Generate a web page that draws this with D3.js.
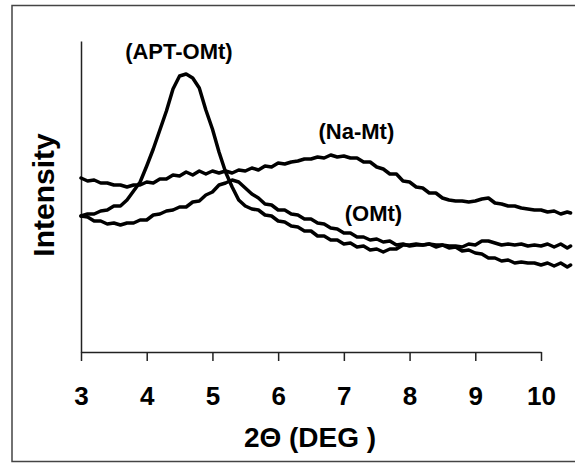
<!DOCTYPE html>
<html>
<head>
<meta charset="utf-8">
<script src="https://cdn.jsdelivr.net/npm/d3@7/dist/d3.min.js"></script>
<style>
  html, body { margin: 0; padding: 0; background: #fff; }
  svg { display: block; }
  text { font-family: "Liberation Sans", Arial, sans-serif; font-weight: bold; fill: #000; }
</style>
</head>
<body>
<svg id="chart" width="575" height="463"></svg>
<script>
// 2θ sample positions (degrees)
const twoTheta = [3.0,3.1,3.2,3.3,3.4,3.5,3.6,3.7,3.8,3.9,4.0,4.1,4.2,4.3,4.4,4.5,4.6,4.7,4.8,4.9,
  5.0,5.1,5.2,5.3,5.4,5.5,5.6,5.7,5.8,5.9,6.0,6.1,6.2,6.3,6.4,6.5,6.6,6.7,6.8,6.9,
  7.0,7.1,7.2,7.3,7.4,7.5,7.6,7.7,7.8,7.9,8.0,8.1,8.2,8.3,8.4,8.5,8.6,8.7,8.8,8.9,
  9.0,9.1,9.2,9.3,9.4,9.5,9.6,9.7,9.8,9.9,10.0,10.1,10.2,10.3,10.4,10.45];

// Intensity (arbitrary units)
const naMt = [1740,1710,1720,1690,1690,1670,1670,1650,1670,1670,1700,1690,1730,1730,1770,1760,1800,1770,1810,1780,
  1810,1790,1810,1790,1820,1810,1840,1820,1860,1850,1890,1880,1900,1910,1930,1930,1950,1940,1970,1950,
  1960,1940,1940,1900,1900,1850,1830,1780,1780,1710,1700,1650,1640,1590,1590,1540,1520,1510,1510,1500,
  1510,1530,1540,1490,1480,1460,1460,1440,1430,1420,1420,1400,1410,1380,1400,1390];

const aptOMt = [1360,1380,1380,1410,1420,1460,1460,1520,1610,1700,1860,2030,2220,2410,2630,2760,2780,2740,2640,2420,
  2230,2000,1800,1650,1520,1460,1430,1420,1370,1360,1310,1300,1260,1250,1210,1210,1160,1160,1120,1120,
  1080,1090,1050,1060,1020,1030,1000,1030,1030,1070,1070,1080,1070,1080,1070,1070,1060,1060,1050,1080,
  1070,1110,1110,1090,1070,1080,1070,1080,1060,1070,1060,1080,1050,1080,1040,1060];

const oMt = [1360,1350,1310,1310,1280,1290,1270,1290,1290,1320,1320,1370,1380,1410,1420,1450,1450,1500,1510,1570,
  1600,1670,1690,1720,1700,1640,1580,1540,1480,1470,1420,1420,1380,1370,1330,1330,1290,1280,1240,1230,
  1190,1190,1150,1150,1120,1130,1100,1110,1070,1080,1060,1070,1070,1080,1050,1070,1040,1050,1010,1020,
  990,980,940,940,910,920,890,900,890,890,870,890,860,890,850,870];

const xTicks = [3,4,5,6,7,8,9,10];
const seriesNames = ["(APT-OMt)", "(Na-Mt)", "(OMt)"];
const labelAt = [[4.49, 2930], [7.19, 2130], [7.45, 1310]];

const svg = d3.select("#chart");

// outer frame
svg.append("rect")
  .attr("x", 12).attr("y", 5.5).attr("width", 570).attr("height", 456)
  .attr("fill", "#fff").attr("stroke", "#444").attr("stroke-width", 1.5);

const x = d3.scaleLinear().domain([3, 10]).range([81, 541]);
const y = d3.scaleLinear().domain([0, 3110]).range([352, 41]);

// x axis
const gx = svg.append("g").attr("transform", `translate(0,${y(0)})`)
  .call(d3.axisBottom(x).tickValues(xTicks).tickFormat(d3.format("d"))
        .tickSize(9).tickSizeOuter(0).tickPadding(26));
gx.select(".domain").attr("stroke", "#222").attr("stroke-width", 1.5);
gx.selectAll(".tick line").attr("stroke", "#222").attr("stroke-width", 1.5);
gx.selectAll(".tick text").style("font-size", "26px")
  .style("font-family", '"Liberation Sans", Arial, sans-serif').style("font-weight", "bold");

// y axis (no ticks)
const gy = svg.append("g").attr("transform", `translate(${x(3)},0)`)
  .call(d3.axisLeft(y).tickValues([]).tickSizeOuter(0));
gy.select(".domain").attr("stroke", "#222").attr("stroke-width", 1.5);

// lines
const series = [aptOMt, naMt, oMt];
const line = d3.line().x((d, i) => x(twoTheta[i])).y(d => y(d));
svg.append("g").selectAll("path").data(series).join("path")
  .attr("d", d => line(d))
  .attr("fill", "none").attr("stroke", "#000").attr("stroke-width", 3.5)
  .attr("stroke-linejoin", "round").attr("stroke-linecap", "round");

// series labels
svg.append("g").selectAll("text").data(seriesNames).join("text")
  .attr("x", (d, i) => x(labelAt[i][0]))
  .attr("y", (d, i) => y(labelAt[i][1]))
  .attr("text-anchor", "middle")
  .style("font-size", "22px")
  .text(d => d);

// axis titles
svg.append("text")
  .attr("x", 310).attr("y", 447)
  .attr("text-anchor", "middle").style("font-size", "28px")
  .text("2Θ (DEG )");

svg.append("text")
  .attr("transform", "translate(54,195) rotate(-90)")
  .attr("text-anchor", "middle").style("font-size", "30px")
  .text("Intensity");
</script>
</body>
</html>
